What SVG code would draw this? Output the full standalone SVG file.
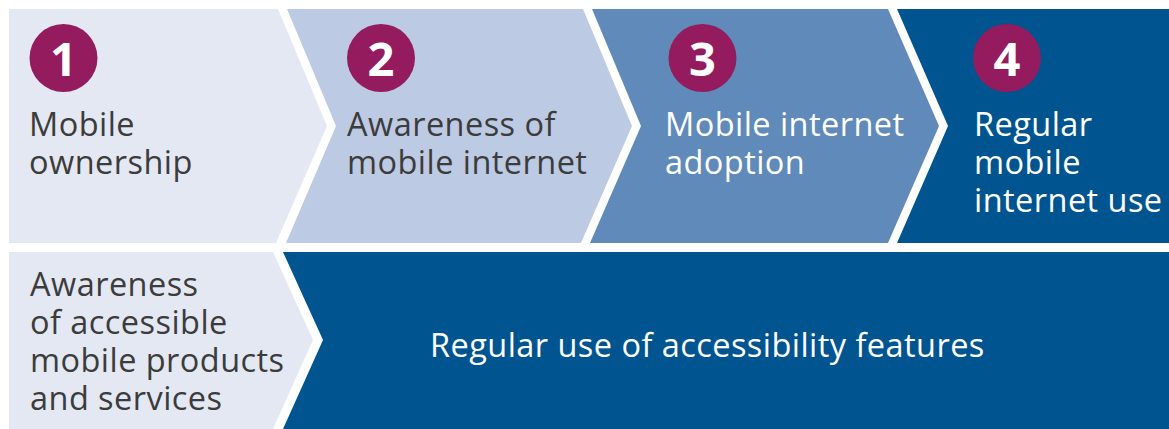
<svg xmlns="http://www.w3.org/2000/svg" width="1169" height="429" viewBox="0 0 1169 429">
<style>
.t{font-family:"Open Sans","Liberation Sans",sans-serif;font-size:32.5px;font-weight:400;letter-spacing:0.45px;fill:#3c3c3b}
.w{fill:#ffffff}
.n{font-family:"Open Sans","Liberation Sans",sans-serif;font-size:47px;font-weight:700;fill:#ffffff;text-anchor:middle}
.c{fill:#941c5e}
</style>
<rect x="0" y="0" width="1169" height="429" fill="#ffffff"/>
<g id="step1">
<polygon points="9,9 278,9 327,126 276,243 9,243" fill="#e3e8f3"/>
<circle class="c" cx="63.5" cy="58" r="34"/>
<text class="n" x="63.5" y="76">1</text>
<text class="t" x="29" y="136">Mobile</text>
<text class="t" x="29" y="174">ownership</text>
</g>
<g id="step2">
<polygon points="287,9 583,9 632,126 581,243 286,243 336,126" fill="#bdcae3"/>
<circle class="c" cx="381" cy="58" r="34"/>
<text class="n" x="381" y="76">2</text>
<text class="t" x="347" y="136">Awareness of</text>
<text class="t" x="347" y="174">mobile internet</text>
</g>
<g id="step3">
<polygon points="592,9 888,9 939,126 888,243 590,243 641,126" fill="#608ab9"/>
<circle class="c" cx="702.5" cy="58" r="34"/>
<text class="n" x="702.5" y="76">3</text>
<text class="t w" x="665" y="136">Mobile internet</text>
<text class="t w" x="665" y="174">adoption</text>
</g>
<g id="step4">
<polygon points="897,9 1169,9 1169,243 897,243 948,126" fill="#00548f"/>
<circle class="c" cx="1007" cy="58" r="34"/>
<text class="n" x="1007" y="76">4</text>
<text class="t w" x="974" y="136">Regular</text>
<text class="t w" x="974" y="174">mobile</text>
<text class="t w" x="974" y="212">internet use</text>
</g>
<g id="awareness">
<polygon points="9,252 273,252 313,340 273,429 9,429" fill="#e3e8f3"/>
<text class="t" x="30" y="296">Awareness</text>
<text class="t" x="30" y="334">of accessible</text>
<text class="t" x="30" y="372">mobile products</text>
<text class="t" x="30" y="410">and services</text>
</g>
<g id="regular-use">
<polygon points="283,252 1169,252 1169,429 283,429 323,340" fill="#00548f"/>
<text class="t w" x="430" y="357">Regular use of accessibility features</text>
</g>
<g id="connectors"/>
</svg>
